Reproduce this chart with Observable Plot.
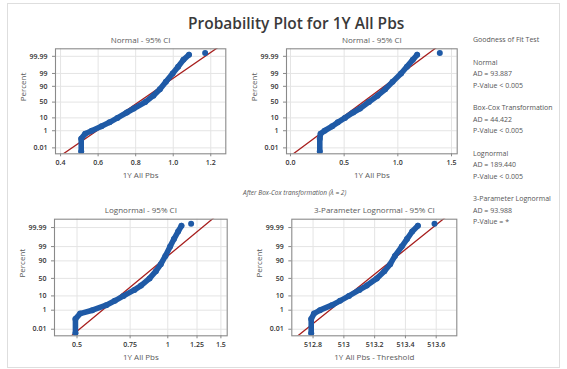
<!DOCTYPE html>
<html><head><meta charset="utf-8">
<script src="https://cdn.jsdelivr.net/npm/d3@7"></script>
<script src="https://cdn.jsdelivr.net/npm/@observablehq/plot@0.6"></script>
<style>
body{margin:0;background:#fff;font-family:"Open Sans",sans-serif;}
#root{position:relative;width:567px;height:369px;overflow:hidden;background:#fff;}
.abs{position:absolute;}
#box{left:7px;top:3px;width:553px;height:365px;border:1px solid #dedede;box-sizing:border-box;}
#title{left:188px;top:13px;font-weight:600;font-size:15.5px;line-height:20px;color:#3a3a3a;font-stretch:92%;white-space:nowrap;}
#note{left:243px;top:188px;font-size:6.5px;font-style:italic;color:#555;white-space:nowrap;font-stretch:90%;}
#gof{left:473px;top:34px;font-size:7px;color:#555;line-height:11.5px;white-space:nowrap;font-stretch:90%;}
#gof div{height:11.5px;}
#gof .gap{height:11px;}
</style></head>
<body><div id="root">
<div id="box" class="abs"></div>
<div id="title" class="abs">Probability Plot for 1Y All Pbs</div>
<div id="note" class="abs">After Box-Cox transformation (λ = 2)</div>
<div id="gof" class="abs"></div>
</div>
<script>
// ---- data ----
// cumulative percent of each plotted point (shared ranks); last one is the isolated maximum
const pct = [0.003, 0.15, 0.5, 1, 2.5, 5, 10, 20, 30, 50, 70, 85, 95, 99, 99.8, 99.97, 99.994, 99.9968];
const normalX = [0.51, 0.51, 0.531, 0.566, 0.618, 0.661, 0.703, 0.753, 0.79, 0.851, 0.894, 0.929, 0.961, 0.997, 1.026, 1.054, 1.084, 1.17];
const boxcoxX = [0.273, 0.273, 0.28, 0.318, 0.389, 0.441, 0.507, 0.584, 0.648, 0.73, 0.811, 0.882, 0.951, 1.03, 1.085, 1.139, 1.18, 1.391];
const lognormalX = [0.494, 0.494, 0.512, 0.562, 0.625, 0.667, 0.713, 0.775, 0.815, 0.87, 0.913, 0.948, 0.982, 1.018, 1.048, 1.082, 1.11, 1.195];
const lognormal3X = [512.788, 512.788, 512.806, 512.845, 512.922, 512.975, 513.033, 513.101, 513.149, 513.214, 513.263, 513.301, 513.332, 513.376, 513.41, 513.444, 513.481, 513.589];
// fitted distribution lines (two end points each)
const fitPct = [0.0001, 99.9999];
const normalFitX = [0.362, 1.268];
const boxcoxFitX = [-0.059, 1.409];
const lognormalFitX = [0.447, 1.48];
const lognormal3FitX = [512.64, 513.692];
// axes
const percentTicks = [0.01, 1, 10, 50, 90, 99, 99.99];
const percentLabels = ["0.01", "1", "10", "50", "90", "99", "99.99"];
const normalTicks = [0.4, 0.6, 0.8, 1.0, 1.2];
const normalTickLabels = ["0.4", "0.6", "0.8", "1.0", "1.2"];
const boxcoxTicks = [0, 0.5, 1, 1.5];
const boxcoxTickLabels = ["0.0", "0.5", "1.0", "1.5"];
const lognormalTicks = [0.5, 0.75, 1, 1.25, 1.5];
const lognormalTickLabels = ["0.5", "0.75", "1", "1.25", "1.5"];
const lognormal3Ticks = [512.8, 513, 513.2, 513.4, 513.6];
const lognormal3TickLabels = ["512.8", "513", "513.2", "513.4", "513.6"];
const panelTitles = ["Normal - 95% CI", "Normal - 95% CI", "Lognormal - 95% CI", "3-Parameter Lognormal - 95% CI"];
const xAxisLabels = ["1Y All Pbs", "1Y All Pbs", "1Y All Pbs", "1Y All Pbs - Threshold"];
const gofLines = [
  ["Goodness of Fit Test"],
  ["Normal", "AD = 93.887", "P-Value < 0.005"],
  ["Box-Cox Transformation", "AD = 44.422", "P-Value < 0.005"],
  ["Lognormal", "AD = 189.440", "P-Value < 0.005"],
  ["3-Parameter Lognormal", "AD = 93.988", "P-Value = *"]
];

// inverse standard normal CDF (probability scale)
function probit(p){
  const a=[-3.969683028665376e+01,2.209460984245205e+02,-2.759285104469687e+02,1.383577518672690e+02,-3.066479806614716e+01,2.506628277459239e+00];
  const b=[-5.447609879822406e+01,1.615858368580409e+02,-1.556989798598866e+02,6.680131188771972e+01,-1.328068155288572e+01];
  const c=[-7.784894002430293e-03,-3.223964580411365e-01,-2.400758277161838e+00,-2.549671010366130e+00,4.374664141464968e+00,2.938163982698783e+00];
  const d=[7.784695709041462e-03,3.224671290700398e-01,2.445134137142996e+00,3.754408661907416e+00];
  const pl=0.02425, ph=1-pl; let q,r;
  if(p<pl){q=Math.sqrt(-2*Math.log(p));return (((((c[0]*q+c[1])*q+c[2])*q+c[3])*q+c[4])*q+c[5])/((((d[0]*q+d[1])*q+d[2])*q+d[3])*q+1);}
  if(p<=ph){q=p-0.5;r=q*q;return (((((a[0]*r+a[1])*r+a[2])*r+a[3])*r+a[4])*r+a[5])*q/(((((b[0]*r+b[1])*r+b[2])*r+b[3])*r+b[4])*r+1);}
  q=Math.sqrt(-2*Math.log(1-p));return -(((((c[0]*q+c[1])*q+c[2])*q+c[3])*q+c[4])*q+c[5])/((((d[0]*q+d[1])*q+d[2])*q+d[3])*q+1);
}
const z = v => probit(v / 100);
const yTickZ = percentTicks.map(z);
const yLabelMap = new Map(yTickZ.map((t, i) => [t, percentLabels[i]]));

const BLUE = "#1f5aa6", RED = "#a8201f", FONT = "Open Sans, sans-serif";

const panels = [
  {left: 0, top: 30, width: 240, height: 160, ml: 55, mr: 14.7, mt: 18.3, mb: 36.7, type: "linear", domain: [0.373, 1.28], xs: normalX, fit: normalFitX, ticks: normalTicks, labels: normalTickLabels},
  {left: 240, top: 30, width: 230, height: 160, ml: 46, mr: 13.3, mt: 18.3, mb: 36.7, type: "linear", domain: [-0.037, 1.553], xs: boxcoxX, fit: boxcoxFitX, ticks: boxcoxTicks, labels: boxcoxTickLabels},
  {left: 0, top: 195, width: 240, height: 170, ml: 54, mr: 13.3, mt: 23.7, mb: 29.7, type: "log", domain: [0.421, 1.574], xs: lognormalX, fit: lognormalFitX, ticks: lognormalTicks, labels: lognormalTickLabels},
  {left: 240, top: 195, width: 230, height: 170, ml: 51.3, mr: 13.7, mt: 23.7, mb: 29.7, type: "log", domain: [512.662, 513.734], xs: lognormal3X, fit: lognormal3FitX, ticks: lognormal3Ticks, labels: lognormal3TickLabels}
];

const root = document.getElementById("root");
panels.forEach((p, k) => {
  const pts = p.xs.map((x, i) => ({x, y: z(pct[i])}));
  const fit = p.fit.map((x, i) => ({x, y: z(fitPct[i])}));
  const chart = Plot.plot({
    width: p.width, height: p.height,
    marginLeft: p.ml, marginRight: p.mr, marginTop: p.mt, marginBottom: p.mb,
    style: {fontFamily: FONT, fontSize: "7px", color: "#333", background: "transparent", overflow: "visible", fontStretch: "90%"},
    x: {type: p.type, domain: p.domain, axis: null},
    y: {domain: [-4.2, 4.33], axis: null},
    marks: [
      Plot.gridX(p.ticks, {stroke: "#e4e4e4", strokeOpacity: 1}),
      Plot.gridY(yTickZ, {stroke: "#e4e4e4", strokeOpacity: 1}),
      Plot.axisX(p.ticks, {tickSize: 3, stroke: "#888", tickFormat: () => "", label: null}),
      Plot.text(p.ticks, {x: d => d, text: (d, i) => p.labels[i], frameAnchor: "bottom", dy: 8.5, lineAnchor: "middle", fill: "#333", fontWeight: 600, fontSize: 7}),
      Plot.axisY(yTickZ, {tickSize: 3, tickPadding: 5, stroke: "#888", fill: "#333", fontWeight: 600, tickFormat: d => yLabelMap.get(d), label: null}),
      Plot.line(fit, {x: "x", y: "y", stroke: RED, strokeWidth: 1.3, clip: true}),
      Plot.line(pts.slice(0, -1), {x: "x", y: "y", stroke: BLUE, strokeWidth: 5.6, strokeLinecap: "round", strokeLinejoin: "round", clip: true}),
      Plot.dot(pts, {x: "x", y: "y", r: 3, fill: BLUE, clip: true}),
      Plot.frame({stroke: "#8a8a8a", strokeWidth: 1.1}),
      Plot.text([panelTitles[k]], {frameAnchor: "top", dy: -8.5, lineAnchor: "middle", fontSize: 8, fill: "#5a5a5a"}),
      Plot.text([xAxisLabels[k]], {frameAnchor: "bottom", dy: 22, lineAnchor: "middle", fontSize: 8, fill: "#5a5a5a"}),
      Plot.text(["Percent"], {frameAnchor: "left", dx: -32, rotate: -90, lineAnchor: "middle", fontSize: 8, fill: "#5a5a5a"})
    ]
  });
  chart.style.position = "absolute";
  chart.style.left = p.left + "px";
  chart.style.top = p.top + "px";
  root.appendChild(chart);
});

const gof = document.getElementById("gof");
gofLines.forEach((grp, g) => {
  if (g > 0) { const s = document.createElement("div"); s.className = "gap"; gof.appendChild(s); }
  grp.forEach(t => { const d = document.createElement("div"); d.textContent = t; gof.appendChild(d); });
});
</script>
</body></html>
